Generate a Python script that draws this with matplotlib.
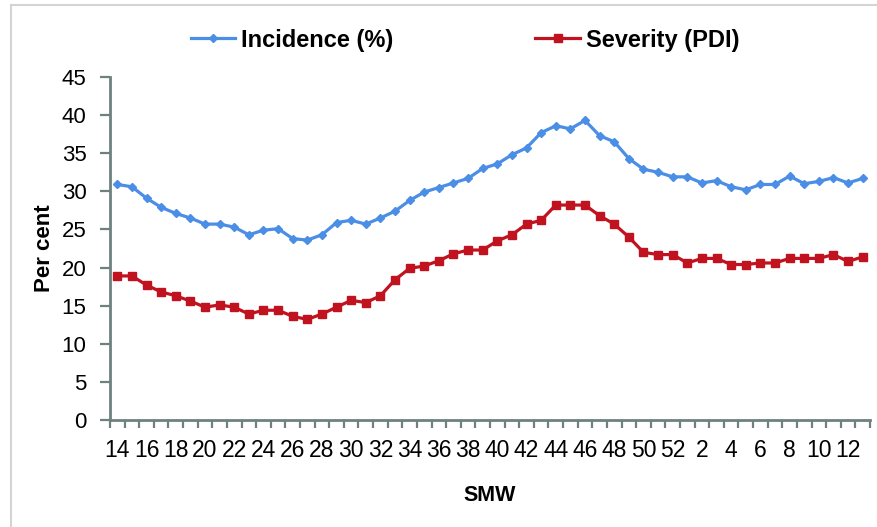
import matplotlib
matplotlib.use("Agg")
import matplotlib.pyplot as plt
from matplotlib.lines import Line2D
import numpy as np

# Standard meteorological weeks (SMW), week 14 of one year through week 13 of the next
smw = [str(w) for w in list(range(14, 53)) + list(range(1, 14))]

incidence = [30.9, 30.6, 29.1, 27.9, 27.1, 26.5, 25.7, 25.7, 25.3, 24.3,
             24.9, 25.1, 23.8, 23.6, 24.3, 25.9, 26.2, 25.7, 26.5, 27.4,
             28.8, 29.9, 30.5, 31.1, 31.7, 33.0, 33.6, 34.8, 35.7, 37.7,
             38.6, 38.2, 39.3, 37.3, 36.5, 34.3, 32.9, 32.5, 31.9, 31.9,
             31.1, 31.4, 30.6, 30.2, 30.9, 30.9, 32.0, 31.0, 31.3, 31.8,
             31.1, 31.7]

severity = [18.9, 18.9, 17.7, 16.8, 16.3, 15.6, 14.8, 15.1, 14.8, 13.9,
            14.4, 14.4, 13.6, 13.2, 13.9, 14.8, 15.7, 15.4, 16.3, 18.4,
            19.9, 20.2, 20.9, 21.8, 22.3, 22.3, 23.5, 24.3, 25.7, 26.2,
            28.2, 28.2, 28.2, 26.8, 25.7, 24.0, 22.0, 21.7, 21.7, 20.6,
            21.2, 21.2, 20.4, 20.4, 20.6, 20.6, 21.2, 21.2, 21.2, 21.7,
            20.8, 21.4]

y_ticks = list(range(0, 50, 5))

blue = "#4a8ee6"
red = "#c0121f"
axis_col = "#6f817f"

W, H = 877, 527
fig = plt.figure(figsize=(W / 100, H / 100), dpi=100)
fig.patch.set_facecolor("white")

# light chart-area border (top and left edges)
fig.add_artist(Line2D([11 / W, 11 / W], [0, 1 - 5 / H], transform=fig.transFigure,
                      color="#d4d4d4", lw=1.5))
fig.add_artist(Line2D([11 / W, 1], [1 - 5 / H, 1 - 5 / H], transform=fig.transFigure,
                      color="#d4d4d4", lw=1.5))

left, right, bottom, top = 110, 870, 420, 77
ax = fig.add_axes([left / W, 1 - bottom / H, (right - left) / W, (bottom - top) / H])

x = np.arange(len(smw))
ax.plot(x, incidence, color=blue, lw=2.3, marker="D", markersize=4.5,
        markerfacecolor=blue, markeredgecolor=blue, label="Incidence (%)")
ax.plot(x, severity, color=red, lw=2.3, marker="s", markersize=5.5,
        markerfacecolor=red, markeredgecolor=red, label="Severity (PDI)")

ax.set_xlim(-0.5, len(smw) - 0.5)
ax.set_ylim(0, 45)

# category boundary ticks (outward, no labels) and centred labels every other week
ax.set_xticks(np.arange(-0.5, len(smw), 1.0))
ax.set_xticklabels([])
ax.tick_params(axis="x", which="major", direction="out", length=6, width=1.6,
               color=axis_col)
ax.set_xticks(x[::2], minor=True)
ax.set_xticklabels(smw[::2], minor=True,
                   fontfamily=["Liberation Sans Narrow", "Liberation Sans"],
                   fontsize=16.5)
ax.tick_params(axis="x", which="minor", length=0, pad=14)

ax.set_yticks(y_ticks)
ax.set_yticklabels([str(v) for v in y_ticks], fontfamily="Liberation Sans",
                   fontsize=16)
ax.tick_params(axis="y", direction="out", length=7, width=1.6, color=axis_col,
               pad=10)

for side in ("top", "right"):
    ax.spines[side].set_visible(False)
for side in ("left", "bottom"):
    ax.spines[side].set_color(axis_col)
    ax.spines[side].set_linewidth(2.0)

ax.set_xlabel("SMW", fontfamily="Liberation Sans", fontweight="bold",
              fontsize=15.5, labelpad=16)
ax.set_ylabel("Per cent", fontfamily="Liberation Sans", fontweight="bold",
              fontsize=16, labelpad=5)

fig.legend(loc="center", bbox_to_anchor=(465 / W, 1 - 40 / H), ncol=2,
           frameon=False, handlelength=1.9, handletextpad=0.25,
           columnspacing=6.0,
           prop={"family": "Liberation Sans", "weight": "bold", "size": 17})

fig.savefig("out.png", dpi=100, facecolor="white")
